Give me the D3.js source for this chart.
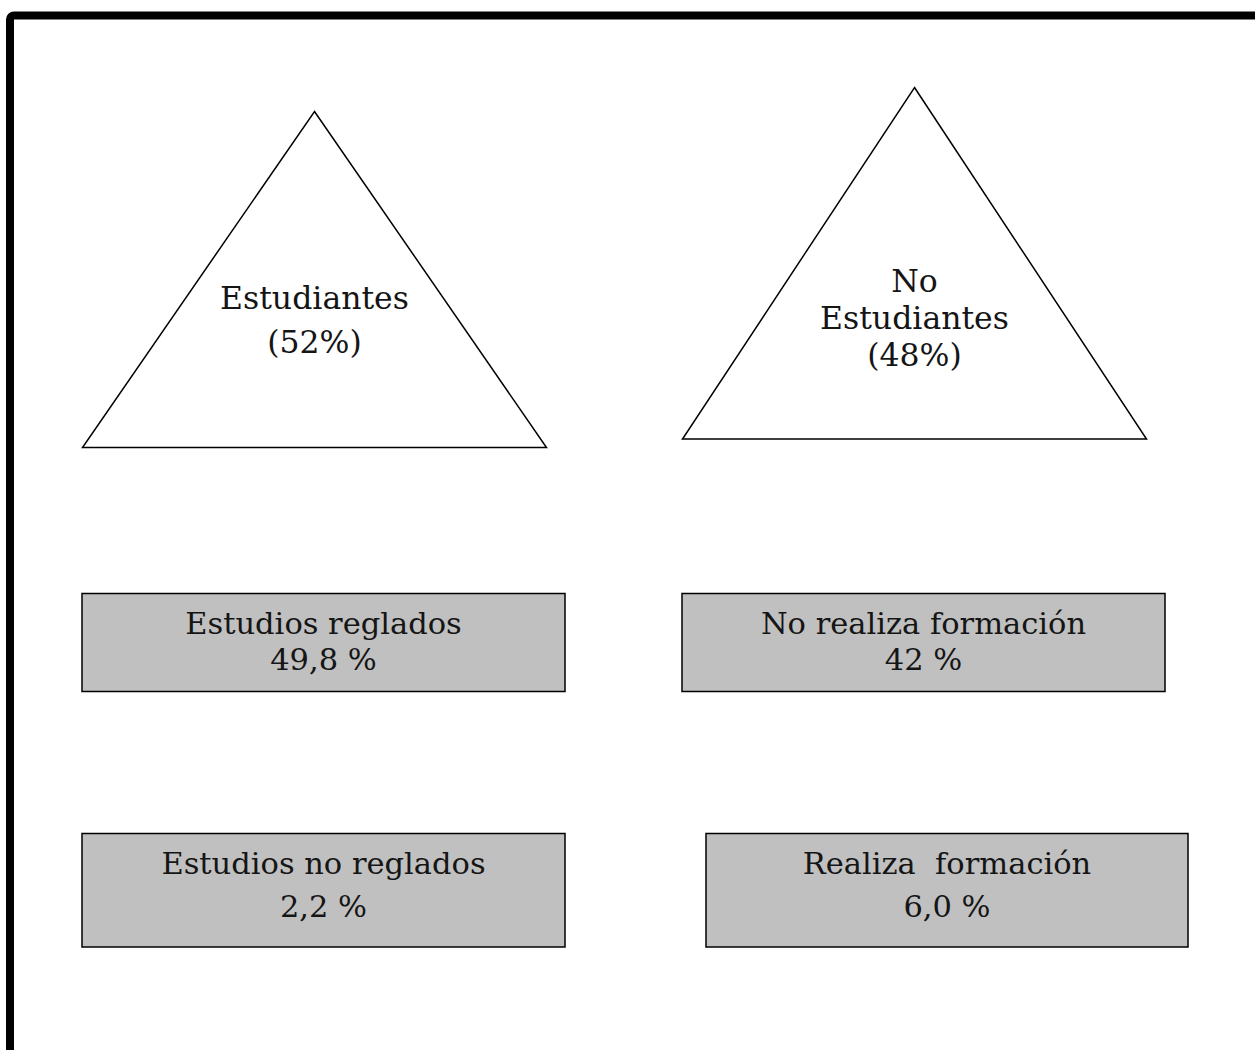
<!DOCTYPE html>
<html>
<head>
<meta charset="utf-8">
<script src="https://cdn.jsdelivr.net/npm/d3@7"></script>
<style>
  html, body { margin: 0; padding: 0; background: #fff; overflow: hidden; }
  text { font-family: "DejaVu Serif", "Liberation Serif", serif; fill: #151515; white-space: pre; }
</style>
</head>
<body>
<div id="chart"></div>
<script>
// groups shown as triangles
const groups = ['Estudiantes', 'No Estudiantes'];
const groupLines = [['Estudiantes'], ['No', 'Estudiantes']];
const groupShares = [52, 48];

// sub-groups shown as grey boxes
const subLabels = ['Estudios reglados', 'No realiza formación', 'Estudios no reglados', 'Realiza  formación'];
const subValues = ['49,8', '42', '2,2', '6,0'];
const subColumn = [0, 1, 0, 1];
const subRow = [0, 0, 1, 1];

const width = 1255;
const height = 1050;

const svg = d3.select('#chart').append('svg')
    .attr('width', width)
    .attr('height', height);

// frame, running off the right and bottom edges
svg.append('rect')
    .attr('x', 10).attr('y', 15.5)
    .attr('width', width + 40).attr('height', height + 40)
    .attr('rx', 4)
    .attr('fill', 'none')
    .attr('stroke', '#000')
    .attr('stroke-width', 8);

// triangles
const triApex = d3.scaleOrdinal().domain([0, 1]).range([[314.5, 111.5], [914.5, 87.5]]);
const triBase = d3.scaleOrdinal().domain([0, 1]).range([447.5, 439]);
const triHalf = d3.scaleOrdinal().domain([0, 1]).range([232, 232]);
const triTextY = d3.scaleOrdinal().domain([0, 1]).range([309, 292]);
const triLineGap = d3.scaleOrdinal().domain([0, 1]).range([44, 37]);

const tri = svg.append('g').selectAll('g')
    .data(groups.map((g, i) => ({i, lines: groupLines[i].concat(`(${groupShares[i]}%)`)})))
    .join('g');

tri.append('path')
    .attr('d', d => {
        const [ax, ay] = triApex(d.i);
        const p = d3.path();
        p.moveTo(ax, ay);
        p.lineTo(ax + triHalf(d.i), triBase(d.i));
        p.lineTo(ax - triHalf(d.i), triBase(d.i));
        p.closePath();
        return p.toString();
    })
    .attr('fill', '#fff')
    .attr('stroke', '#000')
    .attr('stroke-width', 1.5);

tri.each(function(d) {
    d3.select(this).selectAll('text')
        .data(d.lines)
        .join('text')
        .attr('x', triApex(d.i)[0])
        .attr('y', (t, j) => triTextY(d.i) + j * triLineGap(d.i))
        .attr('text-anchor', 'middle')
        .attr('font-size', 31.5)
        .text(t => t);
});

// boxes
const boxX = d3.scaleOrdinal().domain([0, 1]).range([[82, 565], [682, 1165]]);
const boxX2 = d3.scaleOrdinal().domain([0, 1]).range([[82, 565], [706, 1188]]);
const boxY = d3.scaleOrdinal().domain([0, 1]).range([[593.5, 691.5], [833.5, 947]]);
const boxTextY = d3.scaleOrdinal().domain([0, 1]).range([[634, 670], [874, 917]]);

const boxes = svg.append('g').selectAll('g')
    .data(subLabels.map((l, i) => ({label: l, value: subValues[i], c: subColumn[i], r: subRow[i]})))
    .join('g');

const xr = d => (d.r === 0 ? boxX : boxX2)(d.c);

boxes.append('rect')
    .attr('x', d => xr(d)[0])
    .attr('y', d => boxY(d.r)[0])
    .attr('width', d => xr(d)[1] - xr(d)[0])
    .attr('height', d => boxY(d.r)[1] - boxY(d.r)[0])
    .attr('fill', '#c0c0c0')
    .attr('stroke', '#000')
    .attr('stroke-width', 1.5);

boxes.append('text')
    .attr('x', d => (xr(d)[0] + xr(d)[1]) / 2)
    .attr('y', d => boxTextY(d.r)[0])
    .attr('text-anchor', 'middle')
    .attr('font-size', 30.5)
    .text(d => d.label);

boxes.append('text')
    .attr('x', d => (xr(d)[0] + xr(d)[1]) / 2)
    .attr('y', d => boxTextY(d.r)[1])
    .attr('text-anchor', 'middle')
    .attr('font-size', 30.5)
    .text(d => `${d.value} %`);
</script>
</body>
</html>
